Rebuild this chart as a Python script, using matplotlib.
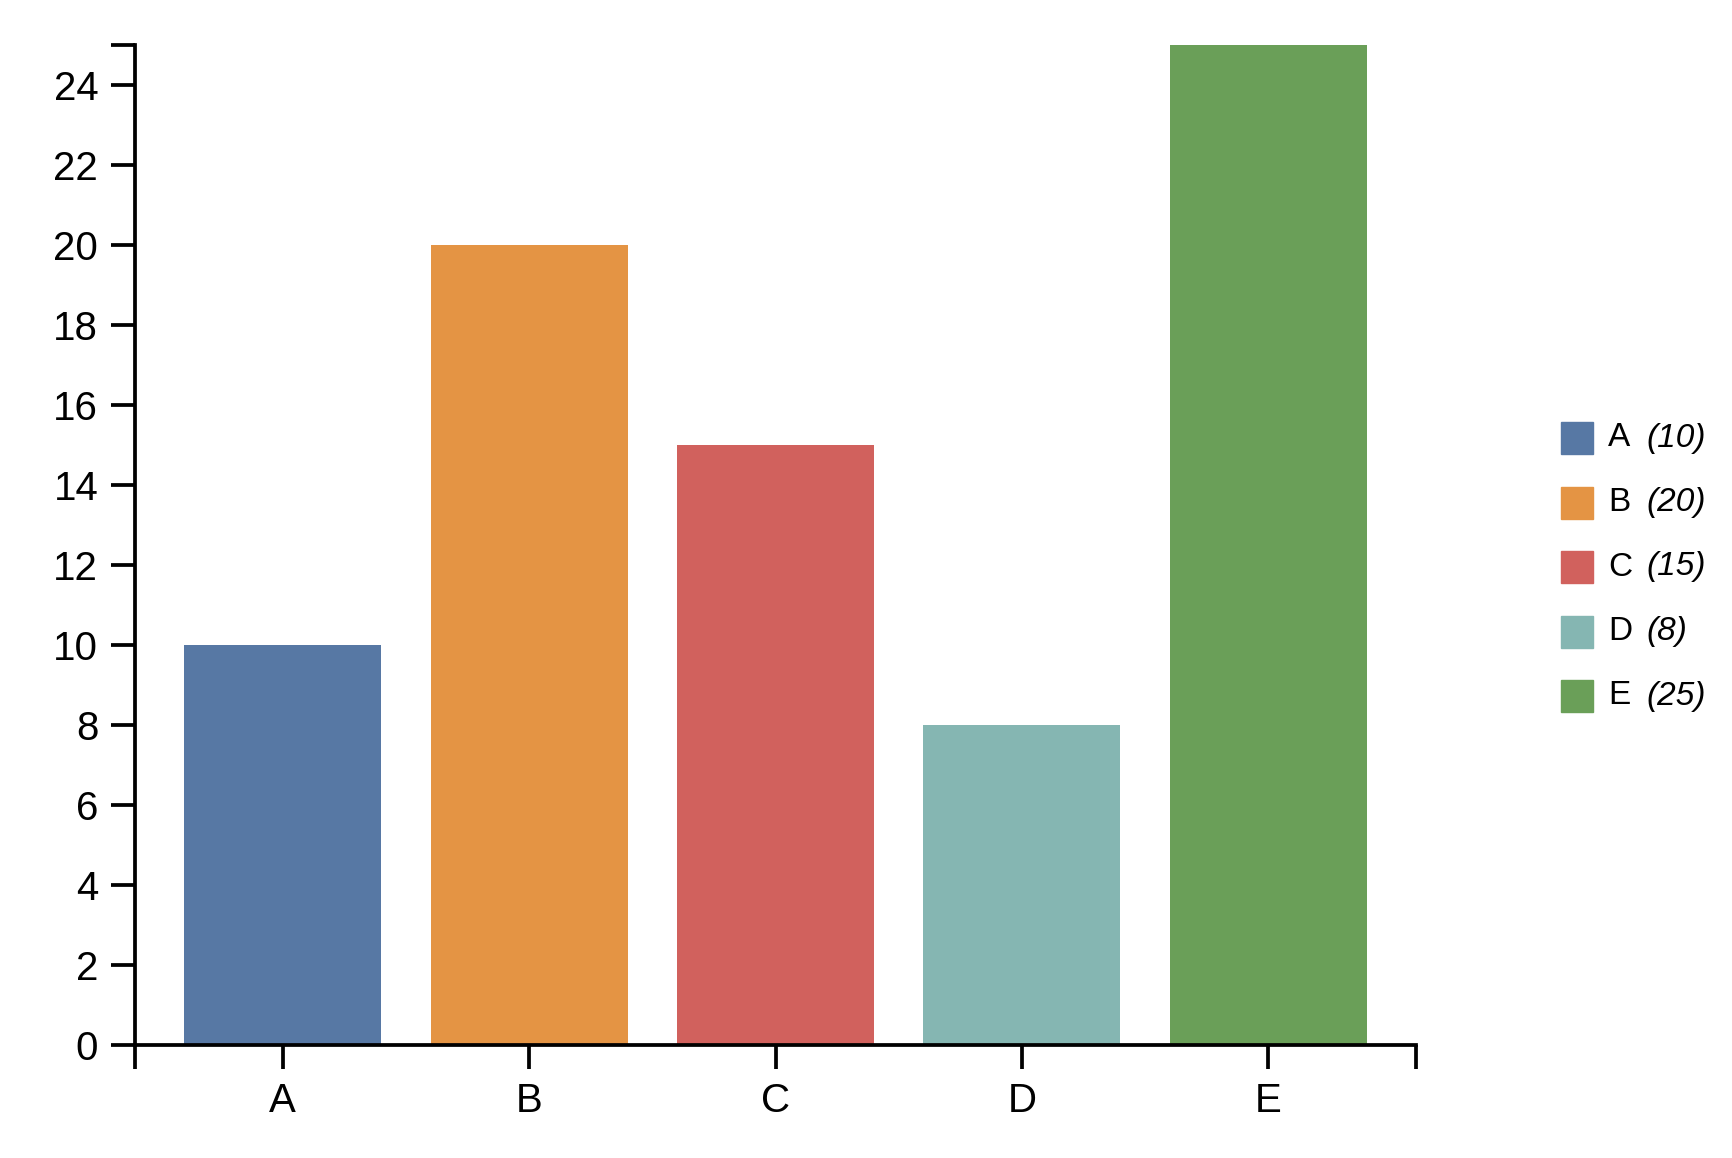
import matplotlib.pyplot as plt
from matplotlib.patches import Rectangle

categories = ['A', 'B', 'C', 'D', 'E']
values = [10, 20, 15, 8, 25]
colors = ['#5778a4', '#e49444', '#d1615d', '#85b6b2', '#6a9f58']
y_ticks = [0, 2, 4, 6, 8, 10, 12, 14, 16, 18, 20, 22, 24]

plt.rcParams['font.family'] = ['Liberation Sans', 'DejaVu Sans']

W, H = 1732, 1158
fig = plt.figure(figsize=(W / 100, H / 100), dpi=100)
ax = fig.add_axes([135 / W, 1 - 1045 / H, (1416 - 135) / W, (1045 - 45) / H])

x = list(range(len(categories)))
ax.bar(x, values, width=0.8, color=colors, zorder=1)

ax.set_xlim(-0.6, len(categories) - 0.4)
ax.set_ylim(0, 25)
ax.set_xticks(x)
ax.set_xticklabels(categories)
ax.set_yticks(y_ticks)
# outer ticks at the domain ends, d3 style
ax.set_xticks([-0.6, len(categories) - 0.4], minor=True)
ax.set_yticks([25], minor=True)

for s in ['top', 'right']:
    ax.spines[s].set_visible(False)
for s in ['left', 'bottom']:
    ax.spines[s].set_linewidth(2.7)
    ax.spines[s].set_color('black')

ax.tick_params(which='both', direction='out', length=17.5, width=2.7, color='black',
               labelsize=29, pad=9)
ax.tick_params(which='minor', labelbottom=False, labelleft=False)

# legend at the right
for i, (cat, val, col) in enumerate(zip(categories, values, colors)):
    cy = 438 + 64.5 * i
    fig.patches.append(Rectangle((1561 / W, 1 - (cy + 16) / H), 32 / W, 32 / H,
                                 transform=fig.transFigure, color=col, figure=fig))
    fig.text(1608 / W, 1 - cy / H, cat, fontsize=24, va='center', ha='left')
    fig.text(1646 / W, 1 - cy / H, f'({val})', fontsize=24, va='center', ha='left',
             style='italic')

fig.savefig('out.png', dpi=100)
